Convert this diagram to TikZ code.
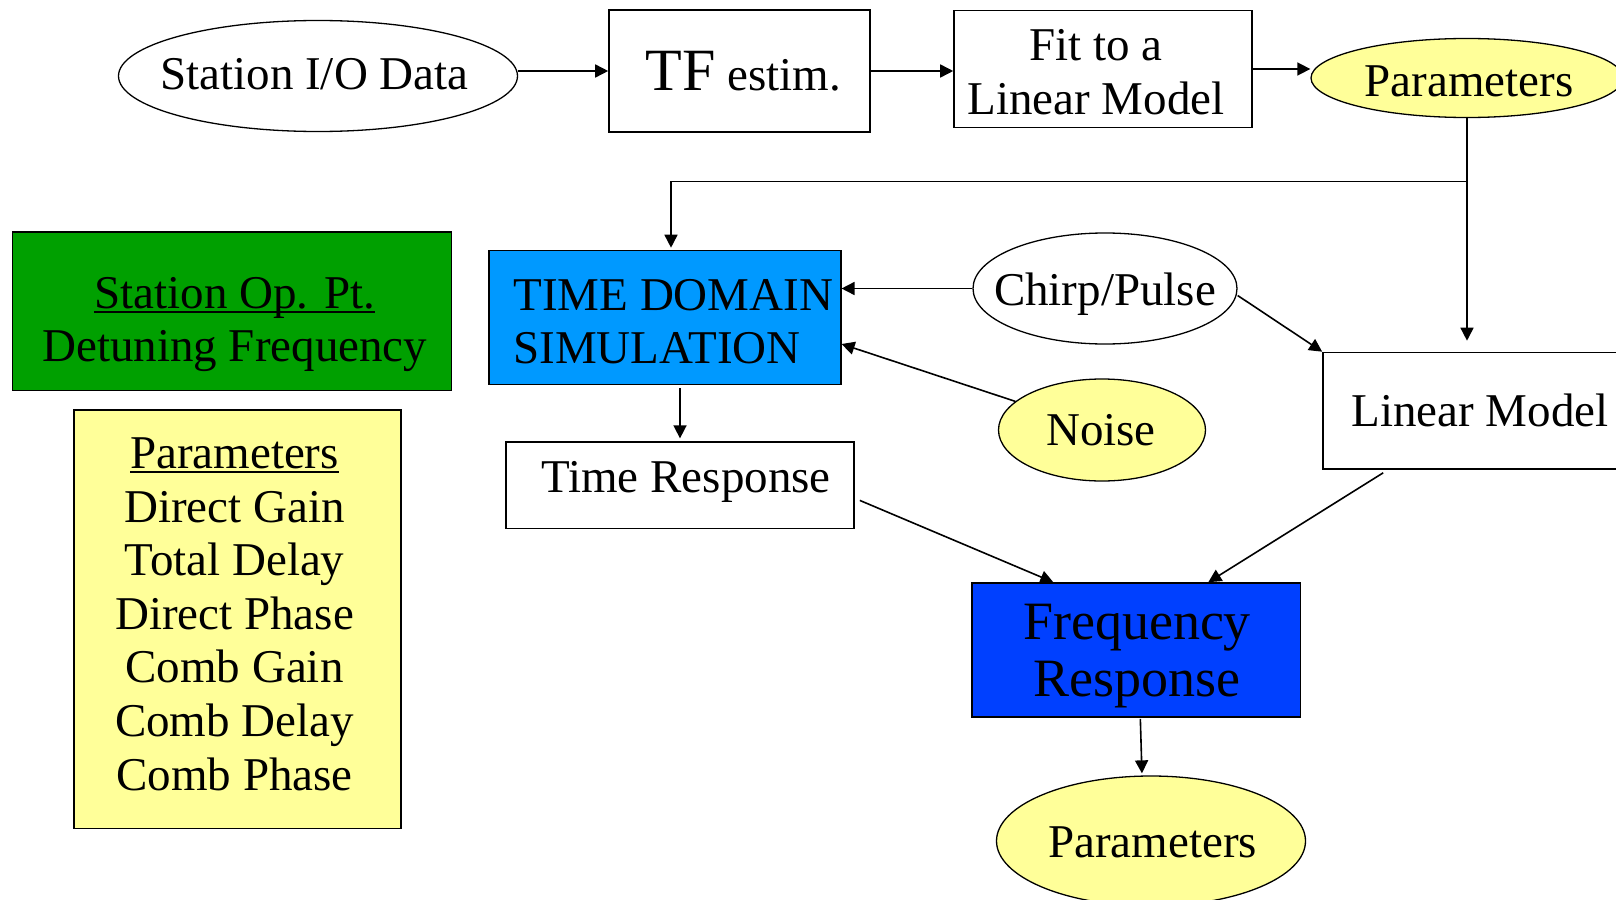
\documentclass[tikz,border=0pt]{standalone}
\usepackage{fontspec}
\setmainfont{Liberation Serif}
\usetikzlibrary{arrows.meta,shapes.geometric}
\definecolor{tdblue}{RGB}{0,153,255}
\definecolor{frblue}{RGB}{0,64,255}
\definecolor{opgreen}{RGB}{0,160,0}
\definecolor{lyellow}{RGB}{255,255,153}
\newsavebox\myulbox
\newcommand\myul[1]{\sbox\myulbox{#1}\rlap{\rule[-4.5pt]{\wd\myulbox}{1.8pt}}\usebox\myulbox}
\begin{document}
\begin{tikzpicture}[x=1pt,y=-1pt,
 every node/.style={font=\fontsize{47}{53.6}\selectfont, inner sep=0pt},
 boxnode/.style={draw, line width=1.6pt, rectangle},
 ellnode/.style={draw, line width=1.3pt, ellipse},
 txt/.style={align=center},
 arr/.style={line width=1.6pt, -{Triangle[length=13pt,width=13pt]}},
 ln/.style={line width=1.6pt}]
\useasboundingbox (0,0) rectangle (1616,899);

% shapes
\node[ellnode, minimum width=399pt, minimum height=111pt] (station) at (318,76) {};
\node[boxnode, minimum width=261pt, minimum height=122pt] (tf) at (739.5,71) {};
\node[boxnode, minimum width=298pt, minimum height=117pt] (fit) at (1103,69) {};
\node[ellnode, fill=lyellow, minimum width=312pt, minimum height=79pt] (par1) at (1467,78) {};
\node[boxnode, fill=tdblue, minimum width=351.5pt, minimum height=134pt] (td) at (665,317.5) {};
\node[ellnode, minimum width=264pt, minimum height=111pt] (chirp) at (1105,288.5) {};
\node[ellnode, fill=lyellow, minimum width=207pt, minimum height=102pt] (noise) at (1102,430) {};
\node[boxnode, minimum width=317pt, minimum height=116.5pt] (lm) at (1481.5,410.75) {};
\node[boxnode, minimum width=348pt, minimum height=86.5pt] (tr) at (680,485.4) {};
\node[boxnode, fill=frblue, minimum width=328.6pt, minimum height=134pt] (fr) at (1136.3,650) {};
\node[ellnode, fill=lyellow, minimum width=309pt, minimum height=130pt] (par2) at (1151,841) {};
\node[boxnode, fill=opgreen, minimum width=439pt, minimum height=158.6pt] (op) at (232,311.3) {};
\node[boxnode, fill=lyellow, minimum width=327pt, minimum height=418.6pt] (plist) at (237.6,619.3) {};

% texts
\node[txt] (station-t) at (314.4,74) {Station I/O Data};
\node[txt] (tf-t) at (743.6,71) {{\fontsize{60}{62}\selectfont TF} estim.};
\node[txt] (fit-t) at (1096,72) {Fit to a\\Linear Model};
\node[txt] (par1-t) at (1469,81) {Parameters};
\node[align=left, anchor=west] (td-t) at (513.2,321.6) {TIME DOMAIN\\SIMULATION};
\node[txt] (chirp-t) at (1105,293.7) {Chirp/Pulse};
\node[txt] (noise-t) at (1101,430) {Noise};
\node[txt] (lm-t) at (1480,410.75) {Linear Model};
\node[txt] (tr-t) at (686,482.3) {Time Response};
\node[txt, font=\fontsize{54}{57.7}\selectfont] (fr-t) at (1137,656.2) {Frequency\\Response};
\node[txt] (par2-t) at (1152.5,842) {Parameters};
\node[txt] (op-t) at (234.8,324.7) {\myul{Station Op. Pt.}\\Detuning Frequency};
\node[txt] (plist-t) at (234.5,614.1) {\myul{Parameters}\\Direct Gain\\Total Delay\\Direct Phase\\Comb Gain\\Comb Delay\\Comb Phase};

% connectors
\draw[arr] (station.east |- tf.west) -- (tf.west);
\draw[arr] (tf.east) -- (tf.east -| fit.west);
\draw[arr] (fit.east) -- (fit.east -| par1.west);

\coordinate (j1) at (par1.south |- 0,181.4);
\coordinate (j2) at (671,181.4);
\draw[ln] (par1.south) -- (j1) -- (j2);
\draw[arr, shorten >=11pt] (j1) -- (j1 |- lm.north);
\draw[arr, shorten >=2pt] (j2) -- (j2 |- td.north);

\draw[arr] (chirp.west) -- (chirp.west -| td.east);
\draw[arr] (noise) -- ([yshift=-26.5pt]td.east);
\draw[arr] ([yshift=-7pt]chirp.east) -- (lm.north west);

\draw[arr, shorten <=3pt, shorten >=3pt] (td.south -| tr.north) -- (tr.north);
\draw[arr] ([shift={(5pt,-15pt)}]tr.east) -- ([xshift=-83pt]fr.north);
\draw[arr] ([shift={(61pt,-3pt)}]lm.south west) -- ([xshift=72pt]fr.north);
\draw[arr, shorten <=1pt, shorten >=2pt] ([xshift=4pt]fr.south) -- ([xshift=-9pt]par2.north);
\end{tikzpicture}
\end{document}
